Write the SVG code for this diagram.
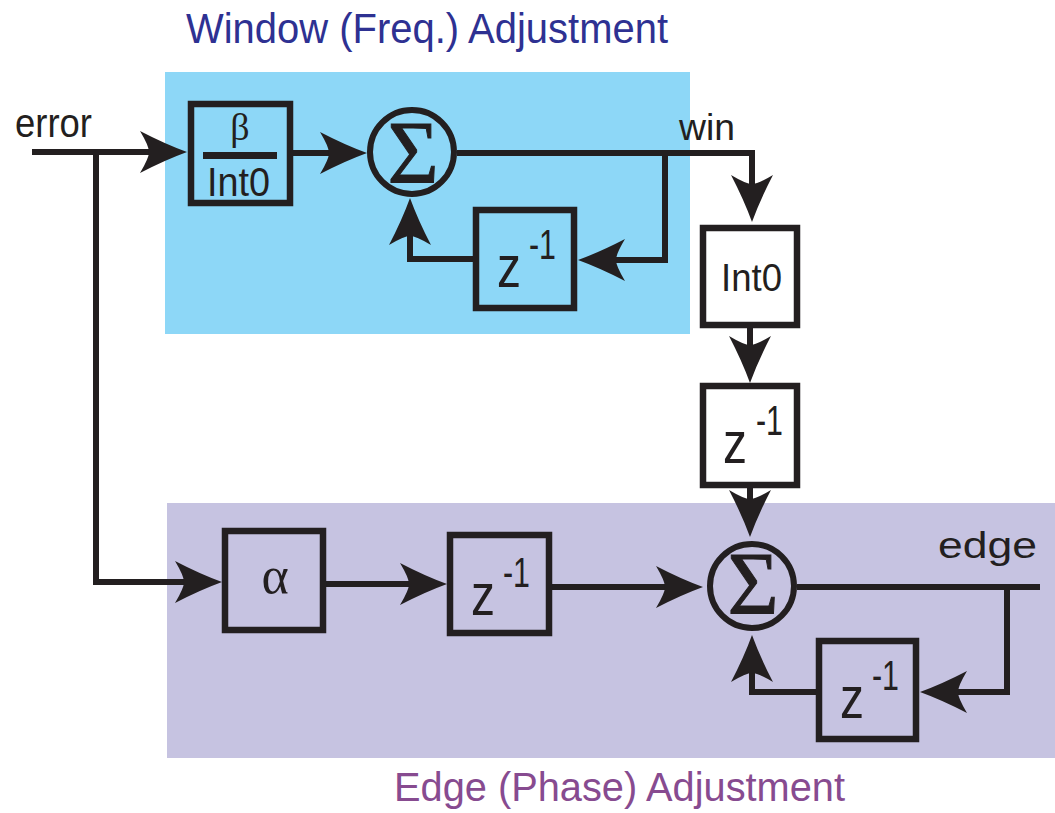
<svg xmlns="http://www.w3.org/2000/svg" width="1055" height="813" viewBox="0 0 1055 813">
  <style>
    .blk { fill: none; stroke: #231f20; stroke-width: 6.5; }
    .wire { fill: none; stroke: #231f20; stroke-width: 6; stroke-linejoin: miter; }
    .sum { fill: none; stroke: #231f20; stroke-width: 6; }
    .sans { font-family: "Liberation Sans", Arial, sans-serif; fill: #231f20; }
    .serif { font-family: "Liberation Serif", "Times New Roman", serif; fill: #231f20; }
    .zt { font-size: 60px; }
    .exp { font-size: 42px; }
    .lbl { font-size: 36px; }
    .sig { font-size: 88px; text-anchor: middle; stroke: #231f20; stroke-width: 1; }
  </style>
  <defs>
    <marker id="arr" markerUnits="userSpaceOnUse" viewBox="-50 -24 54 48" markerWidth="54" markerHeight="48" refX="-38" refY="0" orient="auto">
      <path d="M0,0 Q-22,-8 -47,-21 Q-38,-6 -38,0 Q-38,6 -47,21 Q-22,8 0,0 Z" fill="#231f20"/>
    </marker>
  </defs>

  <!-- shaded regions -->
  <rect id="window-region" x="165" y="72" width="525" height="262" fill="#8dd7f7"/>
  <rect id="edge-region" x="167" y="503" width="888" height="255" fill="#c6c3e1"/>

  <!-- region titles -->
  <text x="186" y="43" font-family="Liberation Sans, Arial, sans-serif" font-size="42" fill="#2e3192" textLength="482" lengthAdjust="spacingAndGlyphs">Window (Freq.) Adjustment</text>
  <text x="394" y="801" font-family="Liberation Sans, Arial, sans-serif" font-size="40" fill="#874b90" textLength="451" lengthAdjust="spacingAndGlyphs">Edge (Phase) Adjustment</text>

  <!-- connectors -->
  <g id="connectors">
    <path class="wire" d="M32,152 H149" marker-end="url(#arr)"/>
    <path class="wire" d="M96,152 V582 H184" marker-end="url(#arr)"/>
    <path class="wire" d="M293,153 H329" marker-end="url(#arr)"/>
    <path class="wire" d="M457,153 H752 V184" marker-end="url(#arr)"/>
    <path class="wire" d="M665,153 V260 H616" marker-end="url(#arr)"/>
    <path class="wire" d="M473,259 H410 V236" marker-end="url(#arr)"/>
    <path class="wire" d="M750,328 V345" marker-end="url(#arr)"/>
    <path class="wire" d="M750,488 V499" marker-end="url(#arr)"/>
    <path class="wire" d="M326,584 H409" marker-end="url(#arr)"/>
    <path class="wire" d="M552,587 H665" marker-end="url(#arr)"/>
    <path class="wire" d="M797,587 H1040"/>
    <path class="wire" d="M1007,587 V692 H958" marker-end="url(#arr)"/>
    <path class="wire" d="M816,692 H752 V673" marker-end="url(#arr)"/>
  </g>

  <!-- signal labels -->
  <text class="sans" x="15" y="137" font-size="40" textLength="77" lengthAdjust="spacingAndGlyphs">error</text>
  <text class="sans lbl" x="679" y="140" textLength="56" lengthAdjust="spacingAndGlyphs">win</text>
  <text class="sans lbl" x="938" y="558" textLength="99" lengthAdjust="spacingAndGlyphs">edge</text>

  <!-- gain beta / Int0 -->
  <g id="beta-gain">
    <rect class="blk" x="191" y="104" width="99" height="99"/>
    <text class="serif" x="240" y="140" font-size="38" text-anchor="middle">β</text>
    <rect x="203" y="152" width="74" height="7" fill="#231f20"/>
    <text class="sans" x="207" y="196" font-size="40" textLength="63" lengthAdjust="spacingAndGlyphs">Int0</text>
  </g>

  <!-- window accumulator -->
  <g id="sum-window">
    <circle class="sum" cx="412" cy="152" r="42"/>
    <text class="serif sig" x="413" y="182">Σ</text>
  </g>

  <g id="delay-window">
    <rect class="blk" x="476" y="210" width="98" height="98"/>
    <text class="sans zt" x="497" y="287" textLength="24" lengthAdjust="spacingAndGlyphs">z</text>
    <text class="sans exp" x="529" y="259" textLength="27" lengthAdjust="spacingAndGlyphs">-1</text>
  </g>

  <g id="int0-scale">
    <rect class="blk" x="703" y="228" width="94" height="97"/>
    <text class="sans" x="721" y="291" font-size="39" textLength="61" lengthAdjust="spacingAndGlyphs">Int0</text>
  </g>

  <g id="delay-win">
    <rect class="blk" x="703" y="386" width="94" height="99"/>
    <text class="sans zt" x="723" y="463" textLength="24" lengthAdjust="spacingAndGlyphs">z</text>
    <text class="sans exp" x="756" y="435" textLength="27" lengthAdjust="spacingAndGlyphs">-1</text>
  </g>

  <!-- edge path -->
  <g id="alpha-gain">
    <rect class="blk" x="225" y="531" width="98" height="99"/>
    <text class="serif" x="275" y="593" font-size="52" text-anchor="middle">α</text>
  </g>

  <g id="delay-error">
    <rect class="blk" x="450" y="535" width="99" height="98"/>
    <text class="sans zt" x="471" y="615" textLength="24" lengthAdjust="spacingAndGlyphs">z</text>
    <text class="sans exp" x="503" y="587" textLength="27" lengthAdjust="spacingAndGlyphs">-1</text>
  </g>

  <g id="sum-edge">
    <circle class="sum" cx="752" cy="586" r="42"/>
    <text class="serif sig" x="753" y="613">Σ</text>
  </g>

  <g id="delay-edge">
    <rect class="blk" x="819" y="641" width="97" height="98"/>
    <text class="sans zt" x="840" y="718" textLength="24" lengthAdjust="spacingAndGlyphs">z</text>
    <text class="sans exp" x="872" y="690" textLength="27" lengthAdjust="spacingAndGlyphs">-1</text>
  </g>
</svg>
